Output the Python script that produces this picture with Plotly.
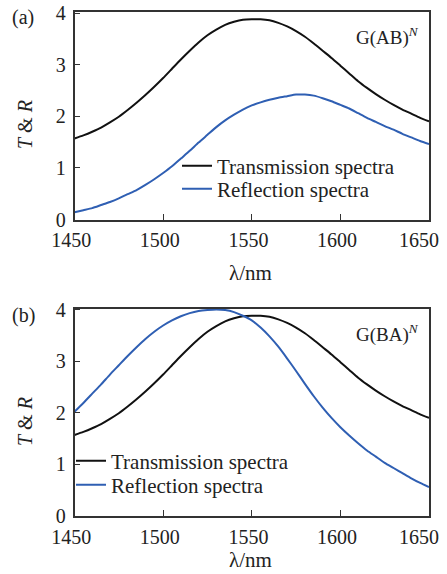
import plotly.graph_objects as go

# wavelength grid (nm)
wl = [1450, 1455, 1460, 1465, 1470, 1475, 1480, 1485, 1490, 1495,
      1500, 1505, 1510, 1515, 1520, 1525, 1530, 1535, 1540, 1545,
      1550, 1555, 1560, 1565, 1570, 1575, 1580, 1585, 1590, 1595,
      1600, 1605, 1610, 1615, 1620, 1625, 1630, 1635, 1640, 1645, 1650]

# Transmission spectra (same in both panels)
trans = [1.57, 1.63, 1.70, 1.78, 1.88, 1.99, 2.12, 2.26, 2.41, 2.57,
         2.74, 2.92, 3.10, 3.27, 3.43, 3.57, 3.68, 3.77, 3.83, 3.87,
         3.88, 3.88, 3.86, 3.81, 3.74, 3.65, 3.54, 3.41, 3.27, 3.13,
         2.98, 2.83, 2.68, 2.55, 2.43, 2.32, 2.22, 2.13, 2.05, 1.97, 1.90]

# Reflection spectra, G(AB)^N
refl_a = [0.14, 0.18, 0.22, 0.28, 0.34, 0.41, 0.49, 0.57, 0.67, 0.78,
          0.90, 1.03, 1.18, 1.33, 1.49, 1.64, 1.79, 1.92, 2.03, 2.13,
          2.21, 2.27, 2.32, 2.36, 2.39, 2.42, 2.42, 2.40, 2.35, 2.29,
          2.22, 2.15, 2.06, 1.97, 1.89, 1.81, 1.74, 1.66, 1.59, 1.52, 1.46]

# Reflection spectra, G(BA)^N
refl_b = [2.02, 2.19, 2.37, 2.55, 2.74, 2.92, 3.10, 3.27, 3.43, 3.57,
          3.69, 3.79, 3.87, 3.93, 3.97, 3.99, 4.00, 3.99, 3.95, 3.88,
          3.79, 3.65, 3.48, 3.28, 3.05, 2.81, 2.56, 2.32, 2.10, 1.90,
          1.72, 1.56, 1.41, 1.27, 1.15, 1.03, 0.93, 0.83, 0.73, 0.64, 0.56]

x_ticks = [1450, 1500, 1550, 1600, 1650]
x_ticktext = ["1450", "1500", "1550", "1600", "1650\u2008\u200a"]
y_ticks = [0, 1, 2, 3, 4]
labels = ["Transmission spectra", "Reflection spectra"]

BLACK = "#111111"
BLUE = "#2f5fb3"
FRAME = "#333333"
TXT = "#222222"
FONT = "Liberation Serif"

W, H = 447, 574

fig = go.Figure()
series = [
    (trans, BLACK, labels[0], "x", "y", "legend"),
    (refl_a, BLUE, labels[1], "x", "y", "legend2"),
    (trans, BLACK, labels[0], "x2", "y2", "legend3"),
    (refl_b, BLUE, labels[1], "x2", "y2", "legend4"),
]
for ys, col, name, xa, ya, lg in series:
    fig.add_trace(go.Scatter(x=wl, y=ys, mode="lines",
                             line=dict(color=col, width=2, shape="spline", smoothing=0.6),
                             name=name, xaxis=xa, yaxis=ya, legend=lg))

xdom = [74.5 / W, 429 / W]
ydom_a = [1 - 219.5 / H, 1 - 12 / H]
ydom_b = [1 - 516 / H, 1 - 308.5 / H]

xcommon = dict(range=[1450, 1650], tickvals=x_ticks, ticktext=x_ticktext, ticks="inside",
               ticklen=6, tickwidth=1.2, tickcolor=FRAME, showline=True, linecolor=FRAME,
               linewidth=1.5, mirror=True, showgrid=False, zeroline=False, automargin=False,
               tickfont=dict(family=FONT, size=20, color=TXT), ticklabeloverflow="allow",
               ticklabelposition="outside left", ticklabelshift=18,
               ticklabelstandoff=2, domain=xdom)
ycommon = dict(range=[0, 4.02], tickvals=y_ticks, ticks="inside", ticklen=6, tickwidth=1.2,
               tickcolor=FRAME, showline=True, linecolor=FRAME, linewidth=1.5, mirror=True,
               showgrid=False, zeroline=False, automargin=False,
               tickfont=dict(family=FONT, size=20, color=TXT), ticklabelstandoff=3)

legend_common = dict(font=dict(family=FONT, size=21, color=TXT), bgcolor="rgba(0,0,0,0)",
                     itemwidth=30, xanchor="left", yanchor="middle", borderwidth=0)

fig.update_layout(
    width=W, height=H, margin=dict(l=0, r=0, t=0, b=0, autoexpand=False),
    paper_bgcolor="white", plot_bgcolor="white",
    xaxis=dict(**xcommon, anchor="y"),
    yaxis=dict(**ycommon, domain=ydom_a, anchor="x"),
    xaxis2=dict(**xcommon, anchor="y2"),
    yaxis2=dict(**ycommon, domain=ydom_b, anchor="x2"),
    legend=dict(**legend_common, x=177 / W, y=1 - 166 / H),
    legend2=dict(**legend_common, x=177 / W, y=1 - 189 / H),
    legend3=dict(**legend_common, x=71 / W, y=1 - 461 / H),
    legend4=dict(**legend_common, x=71 / W, y=1 - 485 / H),
    showlegend=True,
)

ann_font = dict(family=FONT, size=20, color=TXT)
annotations = [
    dict(text="(a)", x=10 / W, y=1 - 18 / H, xanchor="left", yanchor="middle"),
    dict(text="(b)", x=10 / W, y=1 - 315 / H, xanchor="left", yanchor="middle"),
    dict(text="G(AB)<sup><i>N</i></sup>", x=421 / W, y=1 - 36 / H, xanchor="right",
         yanchor="middle", font=dict(family=FONT, size=19, color=TXT)),
    dict(text="G(BA)<sup><i>N</i></sup>", x=421 / W, y=1 - 333 / H, xanchor="right",
         yanchor="middle", font=dict(family=FONT, size=19, color=TXT)),
    dict(text="λ/nm", x=250 / W, y=1 - 273 / H, xanchor="center", yanchor="middle",
         font=dict(family=FONT, size=21, color=TXT)),
    dict(text="λ/nm", x=250 / W, y=1 - 560 / H, xanchor="center", yanchor="middle",
         font=dict(family=FONT, size=21, color=TXT)),
    dict(text="<i>T</i> & <i>R</i>", x=25 / W, y=1 - 125 / H, xanchor="center",
         yanchor="middle", textangle=-90),
    dict(text="<i>T</i> & <i>R</i>", x=25 / W, y=1 - 422 / H, xanchor="center",
         yanchor="middle", textangle=-90),
]
for a in annotations:
    a.setdefault("font", ann_font)
    a.update(xref="paper", yref="paper", showarrow=False)
fig.update_layout(annotations=annotations)

fig.write_html("out.html")
